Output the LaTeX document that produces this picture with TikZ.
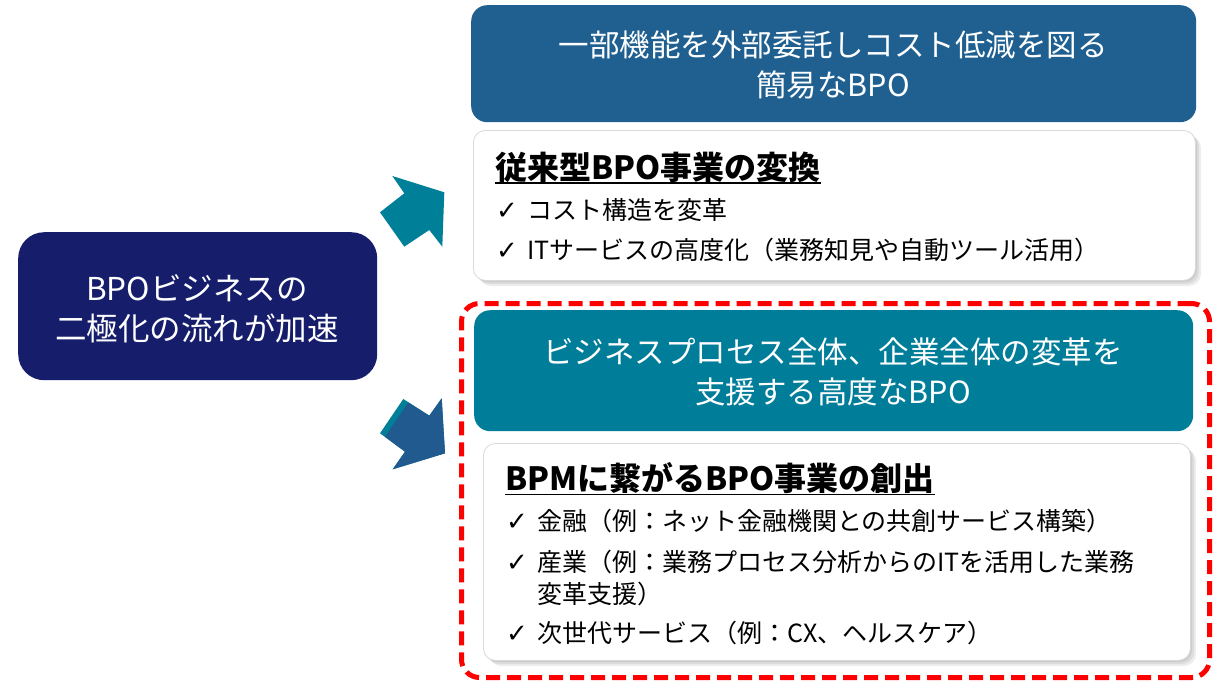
\documentclass[tikz,border=0pt]{standalone}
\usepackage{fontspec}
\setmainfont{Noto Sans CJK JP}
\newfontfamily\jp{Noto Sans CJK JP}
\newfontfamily\chk{DejaVu Sans}
\definecolor{navy}{RGB}{22,30,108}
\definecolor{topblue}{RGB}{31,96,145}
\definecolor{tealbox}{RGB}{0,125,153}
\definecolor{arrowteal}{RGB}{0,128,152}
\definecolor{arrowblue}{RGB}{32,90,142}
\definecolor{frame}{RGB}{255,0,0}
\begin{document}
\begin{tikzpicture}[x=1pt,y=-1pt,
  panel/.style={inner sep=0pt, anchor=north west, rounded corners=#1},
  panel/.default=16pt,
  headtxt/.style={inner sep=0pt, text=white, font=\jp\fontsize{30.5}{30.5}\selectfont},
  lefttxt/.style={inner sep=0pt, text=white, font=\jp\fontsize{31.5}{31.5}\selectfont},
  titletxt/.style={inner sep=0pt, anchor=west, text=black, font=\jp\bfseries\fontsize{32}{32}\selectfont},
  bullettxt/.style={inner sep=0pt, anchor=west, text=black, font=\jp\fontsize{25}{25}\selectfont},
  check/.style={inner sep=0pt, anchor=west, text=black, font=\chk\fontsize{26}{26}\selectfont},
  shadowbox/.style={fill=black, opacity=0.07, rounded corners=12pt},
  whitebox/.style={panel=12pt, fill=white, draw=black!15, line width=0.8pt}
]
\useasboundingbox (0,0) rectangle (1217,680);
\fill[white] (0,0) rectangle (1217,680);

% ---- left box
\node[panel=26pt, fill=navy, minimum width=359pt, minimum height=148pt] (left) at (18,232) {};
\node[lefttxt] (l1) at (197,288) {BPOビジネスの};
\node[lefttxt] (l2) at (197,328) {二極化の流れが加速};

% ---- arrows
\fill[arrowteal] (392.3,176) -- (444.3,192.3) -- (442.3,246.7) -- (429.3,230) -- (404.3,246.7) -- (380,212.3) -- (404.3,193.3) -- cycle;
\fill[arrowteal] (403.3,399) -- (429.3,415.7) -- (441.7,398.3) -- (445,453.3) -- (392.7,469.3) -- (405,451.7) -- (380,433.3) -- cycle;
\fill[arrowblue] (408.3,402.4) -- (429.3,415.7) -- (441.7,398.3) -- (445,453.3) -- (392.7,469.3) -- (405,451.7) -- (385,436.7) -- cycle;

% ---- top box
\node[panel=16pt, fill=topblue, minimum width=725pt, minimum height=117pt] (top) at (471,5) {};
\node[headtxt] (t1) at (833,45) {一部機能を外部委託しコスト低減を図る};
\node[headtxt] (t2) at (833,85) {簡易なBPO};

% ---- white box 1
\foreach \s in {2,4,6}{
  \fill[shadowbox] (473+\s,130+\s) rectangle (1195+\s,280+\s);
}
\node[whitebox, minimum width=722pt, minimum height=150pt] (box1) at (473,130) {};
\node[titletxt] (h1) at (495,167) {従来型BPO事業の変換};
\draw[line width=1.8pt] ([yshift=-4pt]h1.base west) -- ([yshift=-4pt]h1.base east);
\node[check] (c11) at (496,211) {✓};
\node[bullettxt] (b11) at (527,210) {コスト構造を変革};
\node[check] (c12) at (496,251) {✓};
\node[bullettxt] (b12) at (527,250) {ITサービスの高度化（業務知見や自動ツール活用）};

% ---- red dashed frame
\node[panel=18pt, draw=frame, line width=5pt, dash pattern=on 14pt off 7pt, minimum width=748pt, minimum height=374pt] (frm) at (459,301) {};

% ---- teal box
\node[panel=16pt, fill=tealbox, minimum width=719pt, minimum height=121pt] (mid) at (474,310) {};
\node[headtxt] (m1) at (833,352) {ビジネスプロセス全体、企業全体の変革を};
\node[headtxt] (m2) at (833,392) {支援する高度なBPO};

% ---- white box 2
\foreach \s in {2,4,6}{
  \fill[shadowbox] (483+\s,443+\s) rectangle (1190+\s,660+\s);
}
\node[whitebox, minimum width=707pt, minimum height=217pt] (box2) at (483,443) {};
\node[titletxt] (h2) at (505,478) {BPMに繋がるBPO事業の創出};
\draw[line width=1.8pt] ([yshift=-4pt]h2.base west) -- ([yshift=-4pt]h2.base east);
\node[check] (c21) at (506,522) {✓};
\node[bullettxt] (b21) at (537,521) {金融（例：ネット金融機関との共創サービス構築）};
\node[check] (c22) at (506,563) {✓};
\node[bullettxt] (b22) at (537,562) {産業（例：業務プロセス分析からのITを活用した業務};
\node[bullettxt] (b23) at (537,594) {変革支援）};
\node[check] (c23) at (506,634) {✓};
\node[bullettxt] (b24) at (537,633) {次世代サービス（例：CX、ヘルスケア）};
\end{tikzpicture}
\end{document}
